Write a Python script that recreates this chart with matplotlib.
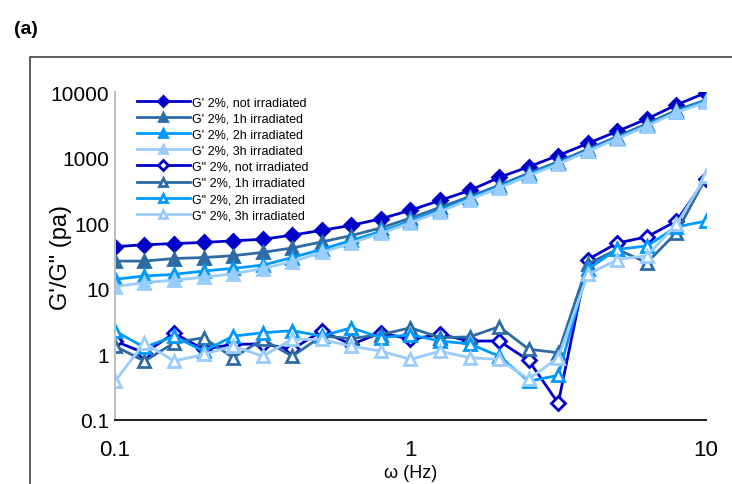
import matplotlib.pyplot as plt
from matplotlib.patches import Rectangle
from matplotlib.ticker import FixedLocator, FixedFormatter

plt.rcParams['font.family'] = ['Liberation Sans', 'DejaVu Sans']

# frequency sweep (Hz)
freq = [0.1, 0.1259, 0.1585, 0.1995, 0.2512, 0.3162, 0.3981, 0.5012, 0.631, 0.7943,
        1.0, 1.259, 1.585, 1.995, 2.512, 3.162, 3.981, 5.012, 6.31, 7.943, 10.0]

# storage modulus G'
g1_0 = [44, 47, 49, 51, 54, 57, 66, 78, 93, 117, 158, 223, 316, 500, 726, 1080, 1650, 2530, 3900, 6400, 9800]
g1_1 = [26.5, 26.5, 29, 30, 32, 36, 42, 52, 65, 85, 120, 175, 255, 380, 580, 870, 1350, 2100, 3300, 5300, 7600]
g1_2 = [14, 15.7, 16.6, 18.7, 20.5, 23, 30, 40, 55, 75, 108, 160, 240, 360, 550, 830, 1280, 2000, 3150, 5000, 7300]
g1_3 = [10.8, 12.4, 13.6, 15, 17, 20.4, 26, 36, 50, 70, 102, 150, 230, 345, 530, 800, 1250, 1950, 3050, 4900, 7000]

# loss modulus G"
g2_0 = [1.6, 1.05, 2.1, 1.2, 1.42, 1.45, 1.2, 2.27, 1.42, 2.14, 1.7, 2.02, 1.6, 1.6, 0.81, 0.18, 28, 50, 62, 108, 480]
g2_1 = [1.34, 0.79, 1.5, 1.8, 0.89, 1.69, 0.94, 1.9, 1.75, 2.0, 2.55, 1.8, 1.85, 2.65, 1.2, 1.06, 24, 40, 25, 72, 500]
g2_2 = [2.27, 1.28, 1.9, 1.12, 1.9, 2.14, 2.3, 1.9, 2.55, 1.8, 2.0, 1.6, 1.45, 0.94, 0.39, 0.48, 20, 40, 45, 88, 108]
g2_3 = [0.39, 1.5, 0.79, 1.0, 1.34, 0.94, 1.7, 1.69, 1.34, 1.12, 0.84, 1.12, 0.89, 0.84, 0.42, 0.89, 16.6, 28, 32, 96, 525]

labels = ["G' 2%, not irradiated", "G' 2%, 1h irradiated", "G' 2%, 2h irradiated", "G' 2%, 3h irradiated",
          'G" 2%, not irradiated', 'G" 2%, 1h irradiated', 'G" 2%, 2h irradiated', 'G" 2%, 3h irradiated']
colors = ['#0000C8', '#2E6BA5', '#0099FF', '#99CCFF']

fig = plt.figure(figsize=(7.32, 4.85), dpi=100)
ax = fig.add_axes([0.157, 0.132, 0.8075, 0.676])

series = [g1_0, g1_1, g1_2, g1_3, g2_0, g2_1, g2_2, g2_3]
for k, ys in enumerate(series):
    c = colors[k % 4]
    mk = 'D' if k % 4 == 0 else '^'
    ms = 7 if mk == 'D' else 8.5
    face = c if k < 4 else 'white'
    ax.plot(freq, ys, color=c, lw=2, marker=mk, ms=ms, mfc=face, mec=c, mew=2,
            label=labels[k])

ax.set_xscale('log')
ax.set_yscale('log')
ax.set_xlim(0.1, 10)
ax.set_ylim(0.1, 10000)

ax.xaxis.set_major_locator(FixedLocator([0.1, 1, 10]))
ax.xaxis.set_major_formatter(FixedFormatter(['0.1', '1', '10']))
ax.xaxis.set_minor_locator(FixedLocator([]))
ax.yaxis.set_major_locator(FixedLocator([0.1, 1, 10, 100, 1000, 10000]))
ax.yaxis.set_major_formatter(FixedFormatter(['0.1', '1', '10', '100', '1000', '10000']))
ax.yaxis.set_minor_locator(FixedLocator([]))
ax.tick_params(axis='both', length=0)
ax.tick_params(axis='x', labelsize=16, pad=14)
ax.tick_params(axis='y', labelsize=15, pad=4)

for s in ['top', 'right']:
    ax.spines[s].set_visible(False)
ax.spines['left'].set_color('#BFBFBF')
ax.spines['left'].set_linewidth(1.5)
ax.spines['bottom'].set_color('#262626')
ax.spines['bottom'].set_linewidth(1.5)

ax.set_ylabel('G\'/G" (pa)', fontsize=17)
ax.yaxis.set_label_coords(-0.073, 0.5)
ax.set_xlabel('ω (Hz)', fontsize=13)
ax.xaxis.set_label_coords(0.5, -0.134)

ax.legend(loc='upper left', bbox_to_anchor=(0.025, 1.01), frameon=False, fontsize=9,
          handlelength=4.2, handletextpad=0.2, labelspacing=0.33, markerscale=0.7,
          borderaxespad=0.2)

fig.patches.append(Rectangle((30 / 732, -0.1), 1.2, 1 - 58 / 485 + 0.1,
                             transform=fig.transFigure, fill=False,
                             edgecolor='#404040', lw=1.2))
fig.text(14 / 732, 1 - 30 / 485, '(a)', fontsize=14, fontweight='bold', va='center')

fig.savefig('out.png', dpi=100)
